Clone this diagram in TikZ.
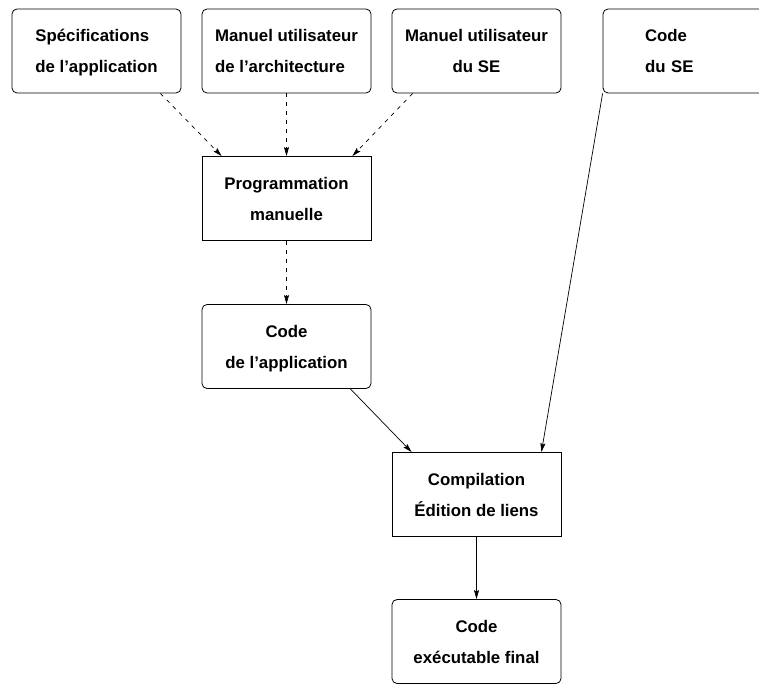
\documentclass[tikz,border=0pt]{standalone}
\usepackage{fontspec}
\setmainfont{Liberation Sans}
\usetikzlibrary{arrows.meta, positioning, calc}
\tikzset{
  docbox/.style={draw, rounded corners=5pt, minimum width=169pt, minimum height=84pt, inner sep=0pt,
    text depth=0pt, font=\bfseries\fontsize{16.8}{31}\selectfont, line width=0.8pt},
  stepbox/.style={docbox, rounded corners=0pt},
  flow/.style={-{Stealth[length=9pt, width=5pt, inset=1.5pt]}, line width=0.7pt},
  manual/.style={flow, dash pattern=on 4pt off 5pt}
}

\begin{document}
\begin{tikzpicture}[x=1pt, y=-1pt]
\clip (0,0) rectangle (759,684);
\useasboundingbox (0,0) rectangle (759,684);

% sources
\node[docbox, align=left] (specs) at (96.5,51) {Spécifications\\de l’application};
\node[docbox, align=left] (archman) at (286.5,51) {Manuel utilisateur\\de l’architecture};
\node[docbox, align=center] (seman) at (476.5,51) {Manuel utilisateur\\du SE};
\node[docbox, align=left, text width=85pt, text depth={}] (secode) at (687.5,51) {Code\\du SE};

% chaine
\node[stepbox, align=center] (prog) at (286.5,198.5) {Programmation\\manuelle};
\node[docbox, align=center] (appcode) at (286.5,346.5) {Code\\de l’application};
\node[stepbox, align=center] (compil) at (476.5,494.5) {Compilation\\Édition de liens};
\node[docbox, align=center] (exec) at (476.5,641.5) {Code\\exécutable final};

% dashed : travail manuel
\draw[manual] ([xshift=-21pt]specs.south east) -- ([xshift=20pt]prog.north west);
\draw[manual] (archman.south) -- (prog.north);
\draw[manual] ([xshift=21pt]seman.south west) -- ([xshift=-19pt]prog.north east);
\draw[manual] (prog.south) -- (appcode.north);

% solid : outils
\draw[flow] ([xshift=-21pt]appcode.south east) -- ([xshift=20pt]compil.north west);
\draw[flow] (secode.south west) -- ([xshift=-20pt]compil.north east);
\draw[flow] (compil.south) -- (exec.north);
\end{tikzpicture}
\end{document}
